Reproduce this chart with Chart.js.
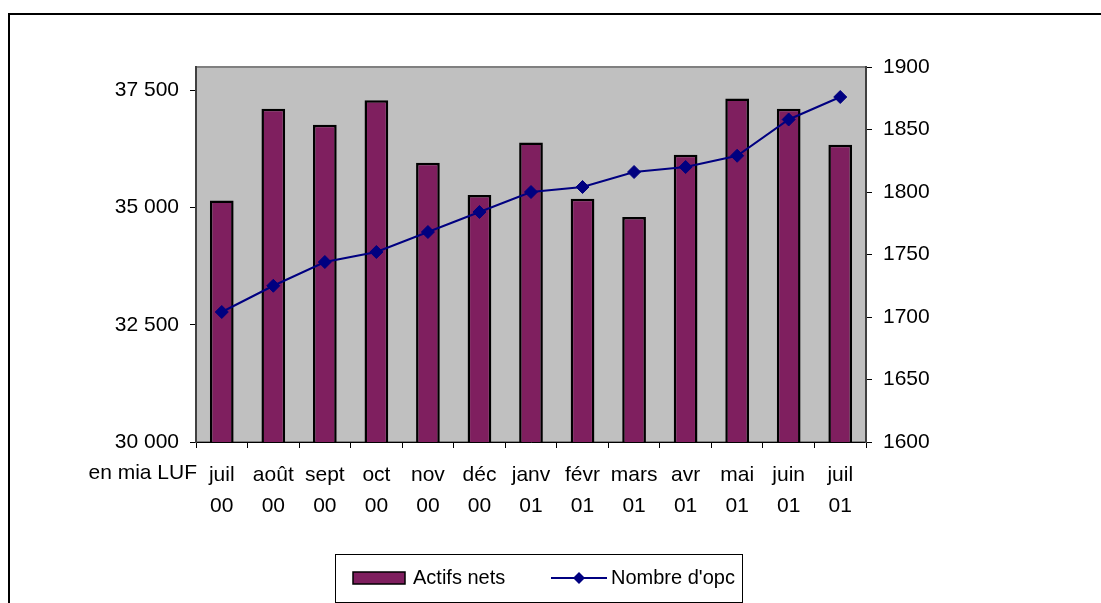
<!DOCTYPE html>
<html>
<head>
<meta charset="utf-8">
<script src="https://cdn.jsdelivr.net/npm/chart.js@4/dist/chart.umd.min.js"></script>
<style>
  body { margin: 0; background: #fff; }
  #wrap { width: 1101px; height: 603px; position: relative; }
</style>
</head>
<body>
<div id="wrap"><canvas id="opcChart"></canvas></div>
<script>
// Données
const mois = [
  ["juil", "00"], ["août", "00"], ["sept", "00"], ["oct", "00"], ["nov", "00"], ["déc", "00"],
  ["janv", "01"], ["févr", "01"], ["mars", "01"], ["avr", "01"], ["mai", "01"], ["juin", "01"], ["juil", "01"],
];

// Actifs nets (en mia LUF) - axe de gauche
const actifsNets = [35150, 37110, 36770, 37290, 35960, 35270, 36390, 35190, 34800, 36130, 37330, 37110, 36340];

// Nombre d'opc - axe de droite
const nombreOpc = [1704, 1725, 1744, 1752, 1768, 1784, 1800, 1804, 1816, 1820, 1829, 1858, 1876];

const ticksGauche = [30000, 32500, 35000, 37500];
const ticksDroite = [1600, 1650, 1700, 1750, 1800, 1850, 1900];

const uniteGauche = "en mia LUF";

const police = { family: "'Liberation Sans', Arial, sans-serif", size: 21 };
const couleurBarre = "#7f1f5f";
const couleurLigne = "#000080";

// format "37 500"
function formatMilliers(v) {
  return String(v).replace(/\B(?=(\d{3})+(?!\d))/g, " ");
}

// fond gris de la zone de tracé + cadre extérieur
const fondPlugin = {
  id: "fond",
  beforeDraw(chart) {
    const { ctx, chartArea: a } = chart;
    ctx.save();
    ctx.fillStyle = "#c0c0c0";
    ctx.fillRect(a.left, a.top, a.right - a.left, a.bottom - a.top);
    ctx.strokeStyle = "#808080";
    ctx.lineWidth = 2;
    ctx.strokeRect(a.left, a.top, a.right - a.left, a.bottom - a.top);
    // cadre du graphique (coupé à droite et en bas)
    ctx.strokeStyle = "#000";
    ctx.lineWidth = 2;
    ctx.beginPath();
    ctx.moveTo(9, 603);
    ctx.lineTo(9, 14);
    ctx.lineTo(1101, 14);
    ctx.stroke();
    ctx.restore();
  },
};

// unité + légende encadrée
const legendePlugin = {
  id: "legendeExcel",
  afterDraw(chart) {
    const { ctx, chartArea: a } = chart;
    ctx.save();
    ctx.font = police.size + "px " + police.family;
    ctx.fillStyle = "#000";
    ctx.textBaseline = "alphabetic";
    ctx.textAlign = "right";
    ctx.fillText(uniteGauche, a.left + 1, 479);

    // boîte de légende
    ctx.fillStyle = "#fff";
    ctx.fillRect(335.5, 554.5, 407, 48);
    ctx.strokeStyle = "#000";
    ctx.lineWidth = 1;
    ctx.strokeRect(335.5, 554.5, 407, 48);

    const dsBarre = chart.data.datasets[0];
    const dsLigne = chart.data.datasets[1];

    ctx.fillStyle = dsBarre.backgroundColor;
    ctx.fillRect(353, 572, 52, 12);
    ctx.lineWidth = 1.5;
    ctx.strokeRect(353, 572, 52, 12);

    ctx.font = "20px " + police.family;
    ctx.fillStyle = "#000";
    ctx.textAlign = "left";
    ctx.textBaseline = "middle";
    ctx.fillText(dsBarre.label, 413, 578);

    ctx.strokeStyle = dsLigne.borderColor;
    ctx.lineWidth = 2;
    ctx.beginPath();
    ctx.moveTo(551, 578);
    ctx.lineTo(607, 578);
    ctx.stroke();
    ctx.fillStyle = dsLigne.borderColor;
    ctx.beginPath();
    ctx.moveTo(579, 572);
    ctx.lineTo(585, 578);
    ctx.lineTo(579, 584);
    ctx.lineTo(573, 578);
    ctx.closePath();
    ctx.fill();

    ctx.fillStyle = "#000";
    ctx.fillText(dsLigne.label, 611, 578);
    ctx.restore();
  },
};

const ctx = document.getElementById("opcChart").getContext("2d");
new Chart(ctx, {
  data: {
    labels: mois,
    datasets: [
      {
        type: "bar",
        label: "Actifs nets",
        data: actifsNets,
        yAxisID: "y",
        backgroundColor: couleurBarre,
        borderColor: "#000",
        borderWidth: 2.5,
        barPercentage: 0.46,
        categoryPercentage: 1,
        order: 2,
      },
      {
        type: "line",
        label: "Nombre d'opc",
        data: nombreOpc,
        yAxisID: "y2",
        borderColor: couleurLigne,
        backgroundColor: couleurLigne,
        borderWidth: 2,
        pointStyle: "rectRot",
        pointRadius: 6.5,
        pointBorderWidth: 1,
        tension: 0,
        order: 1,
      },
    ],
  },
  options: {
    responsive: true,
    maintainAspectRatio: false,
    animation: false,
    layout: { padding: { top: 67, left: 0, right: 0, bottom: 0 } },
    plugins: {
      legend: { display: false },
      tooltip: { enabled: false },
    },
    scales: {
      x: {
        type: "category",
        offset: true,
        grid: { drawOnChartArea: false, offset: true, tickLength: 6, color: "#000" },
        border: { color: "#000", width: 1 },
        ticks: {
          color: "#000",
          font: { ...police, lineHeight: 1.5 },
          maxRotation: 0,
          autoSkip: false,
          padding: 11,
        },
        afterFit(scale) {
          scale.height = 161;
        },
      },
      y: {
        position: "left",
        min: 30000,
        max: 38000,
        grid: { drawOnChartArea: false, tickLength: 6, color: "#000" },
        border: { color: "#404040", width: 2 },
        ticks: {
          color: "#000",
          font: police,
          padding: 11,
          callback: (v) => formatMilliers(v),
        },
        afterBuildTicks(scale) {
          scale.ticks = ticksGauche.map((v) => ({ value: v }));
        },
        afterFit(scale) {
          scale.width = 196;
        },
      },
      y2: {
        position: "right",
        min: 1600,
        max: 1900,
        grid: { drawOnChartArea: false, tickLength: 6, color: "#000" },
        border: { color: "#404040", width: 2 },
        ticks: {
          color: "#000",
          font: police,
          padding: 11,
          callback: (v) => String(v),
        },
        afterBuildTicks(scale) {
          scale.ticks = ticksDroite.map((v) => ({ value: v }));
        },
        afterFit(scale) {
          scale.width = 235;
        },
      },
    },
  },
  plugins: [fondPlugin, legendePlugin],
});
</script>
</body>
</html>
